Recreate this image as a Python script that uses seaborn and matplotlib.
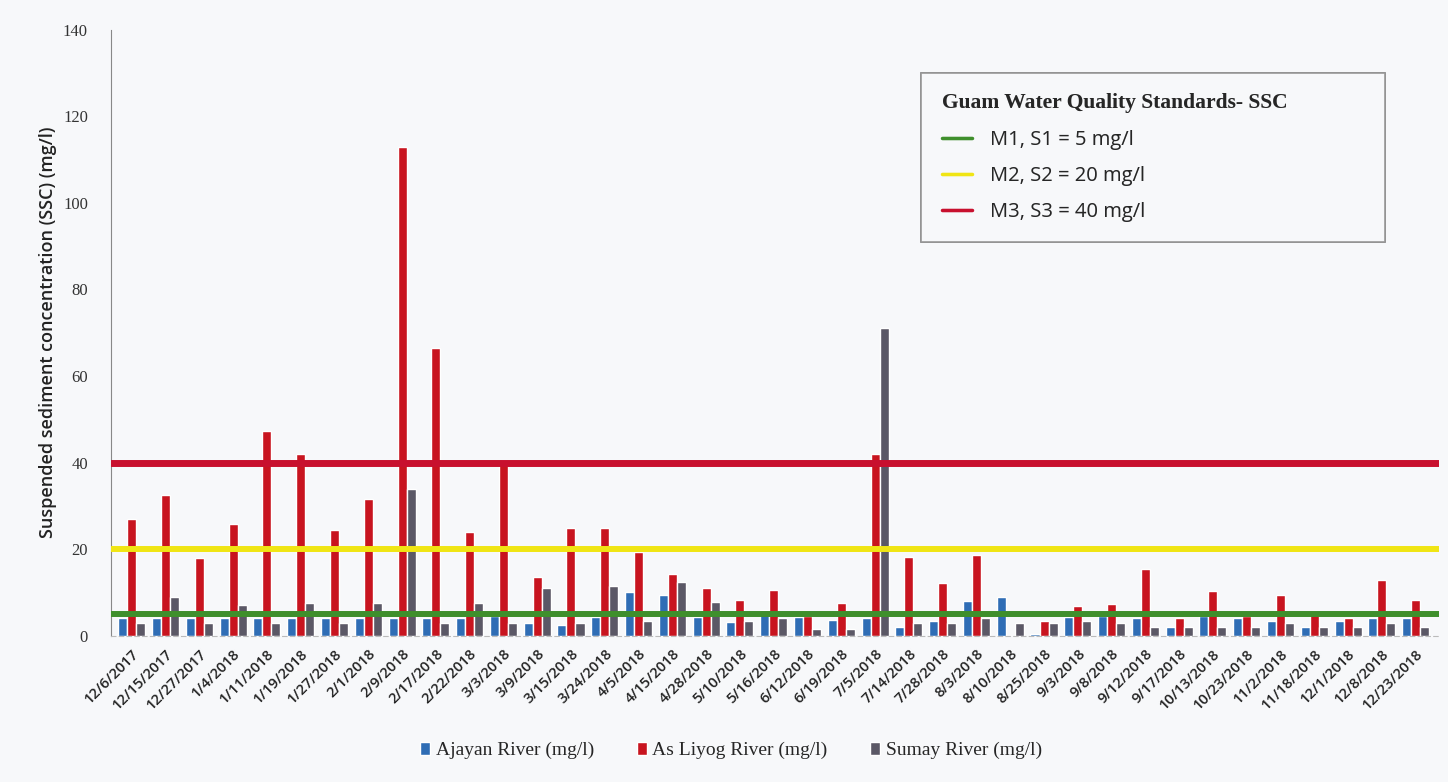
import pandas as pd
import numpy as np
import matplotlib
matplotlib.use('Agg')
import matplotlib.pyplot as plt
import seaborn as sns
from matplotlib.lines import Line2D
from matplotlib.patches import Patch

dates = ['12/6/2017', '12/15/2017', '12/27/2017', '1/4/2018', '1/11/2018', '1/19/2018',
         '1/27/2018', '2/1/2018', '2/9/2018', '2/17/2018', '2/22/2018', '3/3/2018',
         '3/9/2018', '3/15/2018', '3/24/2018', '4/5/2018', '4/15/2018', '4/28/2018',
         '5/10/2018', '5/16/2018', '6/12/2018', '6/19/2018', '7/5/2018', '7/14/2018',
         '7/28/2018', '8/3/2018', '8/10/2018', '8/25/2018', '9/3/2018', '9/8/2018',
         '9/12/2018', '9/17/2018', '10/13/2018', '10/23/2018', '11/2/2018', '11/18/2018',
         '12/1/2018', '12/8/2018', '12/23/2018']

ajayan = [4, 4, 4, 4, 4, 4, 4, 4, 4, 4, 4, 4.5, 3, 2.5, 4.4, 10, 9.5, 4.4, 3.2, 6,
          4.4, 3.7, 4, 2, 3.3, 8, 9, 0.5, 4.4, 4.5, 4, 2, 4.5, 4, 3.5, 2, 3.5, 4, 4]
asliyog = [27, 32.5, 18, 25.8, 47.3, 42, 24.5, 31.5, 113, 66.5, 24, 40, 13.5, 25, 25,
           19.3, 14.2, 11, 8.3, 10.6, 4.6, 7.6, 42, 18.2, 12.3, 18.6, 0, 3.3, 6.8, 7.4,
           15.4, 4.2, 10.4, 4.5, 9.5, 5.5, 4, 12.9, 8.3]
sumay = [3, 9, 3, 7, 3, 7.5, 3, 7.5, 34, 3, 7.5, 3, 11, 3, 11.5, 3.5, 12.5, 7.8, 3.5, 4,
         1.5, 1.5, 71, 3, 3, 4, 3, 3, 3.5, 3, 2, 2, 2, 2, 3, 2, 2, 3, 2]

rivers = ['Ajayan River (mg/l)', 'As Liyog River (mg/l)', 'Sumay River (mg/l)']
river_colors = ['#2f6db5', '#c8141f', '#5b5866']

std_labels = ['M1, S1 = 5 mg/l', 'M2, S2 = 20 mg/l', 'M3, S3 = 40 mg/l']
std_values = [5, 20, 40]
std_colors = ['#3f8f2c', '#f0e514', '#c8102e']

df = pd.DataFrame({'date': dates * 3,
                   'ssc': ajayan + asliyog + sumay,
                   'river': [r for r in rivers for _ in dates]})

sns.set_style('white')
fig = plt.figure(figsize=(14.48, 7.82), dpi=100)
fig.patch.set_facecolor('#f7f8fa')
ax = fig.add_axes([0.077, 0.187, 0.917, 0.775])
ax.set_facecolor('#f7f8fa')

sns.barplot(data=df, x='date', y='ssc', hue='river', palette=river_colors,
            width=0.8, ax=ax, legend=False, zorder=2, saturation=1)

for val, col in zip(std_values, std_colors):
    ax.axhline(val, color=col, lw=5 if val == 40 else 4.3, zorder=3)

ax.set_ylim(0, 140)
ax.set_xlim(-0.6, 38.7)
ax.set_yticks(range(0, 141, 20))
ax.set_yticklabels([str(v) for v in range(0, 141, 20)], fontfamily='Liberation Serif',
                   fontsize=12, color='#333333')
ax.set_xticks(range(len(dates)))
ax.set_xticklabels(dates, rotation=45, ha='right', rotation_mode='anchor',
                   fontfamily='Open Sans', fontweight='semibold', fontsize=10.5,
                   color='#222222')
ax.tick_params(axis='x', length=4, color='#aaaaaa', pad=4)
ax.tick_params(axis='y', length=5, color='#888888', pad=12)
ax.set_xlabel('')
ax.set_ylabel('Suspended sediment concentration (SSC) (mg/l)', fontfamily='Open Sans',
              fontweight='semibold', fontsize=13, color='#222222', labelpad=4)
for s in ['top', 'right']:
    ax.spines[s].set_visible(False)
ax.spines['left'].set_color('#888888')
ax.spines['bottom'].set_color('#bbbbbb')
ax.spines['bottom'].set_linestyle((0, (4, 3)))

std_handles = [Line2D([0], [0], color=c, lw=2.5) for c in std_colors]
leg1 = ax.legend(std_handles, std_labels, loc='upper left',
                 bbox_to_anchor=(0.61, 0.928, 0.349, 0.0), mode='expand',
                 frameon=True, fancybox=False,
                 title='Guam Water Quality Standards- SSC', alignment='left',
                 prop={'family': 'Open Sans', 'size': 14.5}, handlelength=1.5,
                 handletextpad=0.9, borderpad=1.0, labelspacing=0.8, borderaxespad=0)
leg1.get_title().set_fontfamily('Liberation Serif')
leg1.get_title().set_fontsize(15.5)
leg1.get_title().set_fontweight('bold')
leg1.get_frame().set_edgecolor('#888888')
leg1.get_frame().set_facecolor('#f7f8fa')
leg1.get_frame().set_linewidth(1.2)
ax.add_artist(leg1)

bar_handles = [Patch(facecolor=c) for c in river_colors]
fig.legend(bar_handles, rivers, loc='center', bbox_to_anchor=(0.505, 0.04), ncol=3,
           frameon=False, prop={'family': 'Liberation Serif', 'size': 14},
           handlelength=0.5, handleheight=0.6, handletextpad=0.3, columnspacing=2.2)

fig.savefig('out.png', dpi=100, facecolor=fig.get_facecolor())
